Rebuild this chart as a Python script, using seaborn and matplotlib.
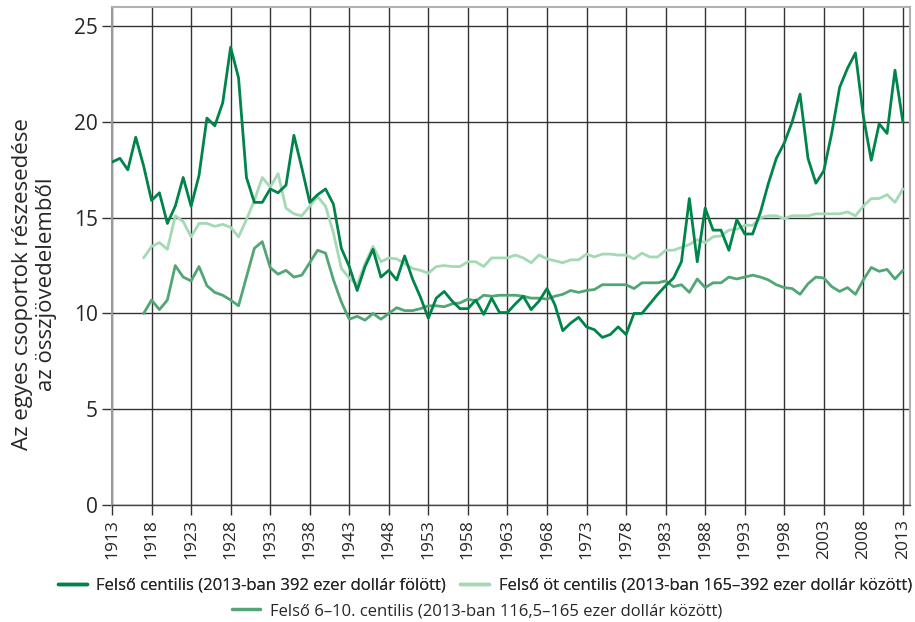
import numpy as np
import pandas as pd
import matplotlib
matplotlib.use("Agg")
import matplotlib.pyplot as plt
import seaborn as sns
from matplotlib.lines import Line2D

years_top1 = list(range(1913, 2014))
top1 = [17.9, 18.1, 17.5, 19.2, 17.7, 15.9, 16.3, 14.7, 15.6, 17.1,
        15.6, 17.2, 20.2, 19.8, 21.0, 23.9, 22.3, 17.1, 15.8, 15.8,
        16.5, 16.3, 16.7, 19.3, 17.6, 15.8, 16.2, 16.5, 15.7, 13.4,
        12.45, 11.2, 12.45, 13.35, 11.9, 12.25, 11.75, 13.0, 11.8, 10.85,
        9.75, 10.8, 11.15, 10.65, 10.25, 10.25, 10.7, 9.95, 10.8, 10.05,
        10.05, 10.5, 10.9, 10.2, 10.65, 11.3, 10.45, 9.1, 9.5, 9.8,
        9.3, 9.15, 8.75, 8.9, 9.3, 8.9, 10.0, 10.0, 10.5, 11.0,
        11.45, 11.85, 12.7, 16.0, 12.7, 15.5, 14.35, 14.35, 13.3, 14.9,
        14.15, 14.15, 15.3, 16.8, 18.1, 18.9, 20.0, 21.45, 18.1, 16.8,
        17.45, 19.4, 21.8, 22.8, 23.6, 20.3, 18.0, 19.9, 19.4, 22.7,
        20.0]

years_other = list(range(1917, 2014))
top2_5 = [12.9, 13.5, 13.7, 13.35, 15.1, 14.8, 14.0, 14.7, 14.7, 14.55,
          14.65, 14.5, 14.0, 14.9, 15.9, 17.1, 16.6, 17.3, 15.5, 15.2,
          15.1, 15.6, 16.1, 15.6, 14.2, 12.35, 11.85, 11.5, 12.6, 13.5,
          12.7, 12.9, 12.85, 12.6, 12.35, 12.25, 12.1, 12.45, 12.5, 12.45,
          12.45, 12.7, 12.7, 12.45, 12.9, 12.9, 12.9, 13.05, 12.9, 12.65,
          13.05, 12.85, 12.75, 12.65, 12.8, 12.8, 13.1, 12.95, 13.1, 13.1,
          13.05, 13.05, 12.85, 13.15, 12.95, 12.95, 13.3, 13.3, 13.45, 13.6,
          13.85, 13.7, 14.0, 14.05, 14.35, 14.4, 14.6, 14.6, 15.0, 15.1,
          15.1, 14.95, 15.1, 15.1, 15.1, 15.2, 15.2, 15.2, 15.2, 15.3,
          15.1, 15.6, 16.0, 16.0, 16.2, 15.8, 16.5]
top6_10 = [10.0, 10.7, 10.2, 10.7, 12.5, 11.9, 11.7, 12.45, 11.45, 11.1,
           10.95, 10.7, 10.4, 11.9, 13.4, 13.75, 12.4, 12.05, 12.25, 11.9,
           12.0, 12.65, 13.3, 13.15, 11.75, 10.6, 9.7, 9.85, 9.65, 10.0,
           9.7, 10.0, 10.3, 10.15, 10.15, 10.25, 10.4, 10.4, 10.35, 10.5,
           10.55, 10.75, 10.65, 10.95, 10.9, 10.95, 10.95, 10.95, 10.9, 10.8,
           10.8, 10.75, 10.9, 11.0, 11.2, 11.1, 11.2, 11.25, 11.5, 11.5,
           11.5, 11.5, 11.3, 11.6, 11.6, 11.6, 11.7, 11.4, 11.5, 11.1,
           11.8, 11.35, 11.6, 11.6, 11.9, 11.8, 11.9, 12.0, 11.9, 11.75,
           11.5, 11.35, 11.3, 11.0, 11.55, 11.9, 11.85, 11.4, 11.15, 11.35,
           11.0, 11.75, 12.4, 12.2, 12.3, 11.8, 12.25]

labels = ["Felső centilis (2013-ban 392 ezer dollár fölött)",
          "Felső öt centilis (2013-ban 165–392 ezer dollár között)",
          "Felső 6–10. centilis (2013-ban 116,5–165 ezer dollár között)"]
colors = ["#00844a", "#a3d9b3", "#52a676"]
xticks = list(range(1913, 2014, 5))
yticks = [0, 5, 10, 15, 20, 25]
ylabel = "Az egyes csoportok részesedése\naz összjövedelemből"

df = pd.concat([
    pd.DataFrame({"year": years_other, "value": top2_5, "series": labels[1]}),
    pd.DataFrame({"year": years_other, "value": top6_10, "series": labels[2]}),
    pd.DataFrame({"year": years_top1, "value": top1, "series": labels[0]}),
])

sns.set_theme(style="white")
plt.rcParams["font.family"] = ["Open Sans", "DejaVu Sans"]

fig = plt.figure(figsize=(9.15, 6.22), dpi=100)
ax = fig.add_axes([112 / 915, 1 - 505 / 622, (910 - 112) / 915, (505 - 7) / 622])

palette = {labels[0]: colors[0], labels[1]: colors[1], labels[2]: colors[2]}
sns.lineplot(data=df, x="year", y="value", hue="series", palette=palette,
             linewidth=2.0, ax=ax, legend=False, zorder=3)

ax.set_xlim(1913, 2013.9)
ax.set_ylim(0, 26)
ax.set_xticks(xticks)
ax.set_xticklabels([str(t) for t in xticks], rotation=90, fontsize=12.5)
ax.set_yticks(yticks)
ax.set_yticklabels([str(t) for t in yticks], fontsize=15)
ax.grid(True, color="#333333", linewidth=1.0, zorder=1)
ax.set_axisbelow(True)
ax.tick_params(axis="both", which="both", direction="out", length=7,
               width=1, color="#333333", bottom=True, left=True, pad=3)
ax.set_xlabel("")
ax.set_ylabel(ylabel, fontsize=16, linespacing=1.2)
ax.yaxis.set_label_coords(-0.069, 0.444)

for side in ["top", "right"]:
    ax.spines[side].set_color("#b0b0b0")
    ax.spines[side].set_linewidth(1.5)
ax.spines["left"].set_color("#9a9a9a")
ax.spines["left"].set_linewidth(1.5)
ax.spines["bottom"].set_color("#444444")
ax.spines["bottom"].set_linewidth(1.0)

h = [Line2D([0], [0], color=c, lw=2.5) for c in colors]
leg1 = fig.legend(h[:2], labels[:2], loc="center", bbox_to_anchor=(485 / 915, 1 - 586 / 622),
                  ncol=2, frameon=False, fontsize=12, handlelength=1.72,
                  handletextpad=0.57, columnspacing=0.86, borderaxespad=0,
                  borderpad=0)
leg2 = fig.legend(h[2:], labels[2:], loc="center", bbox_to_anchor=(477 / 915, 1 - 611 / 622),
                  ncol=1, frameon=False, fontsize=12, handlelength=1.72,
                  handletextpad=0.57, borderaxespad=0, borderpad=0)
fig.add_artist(leg1)

fig.savefig("out.png", dpi=100)
